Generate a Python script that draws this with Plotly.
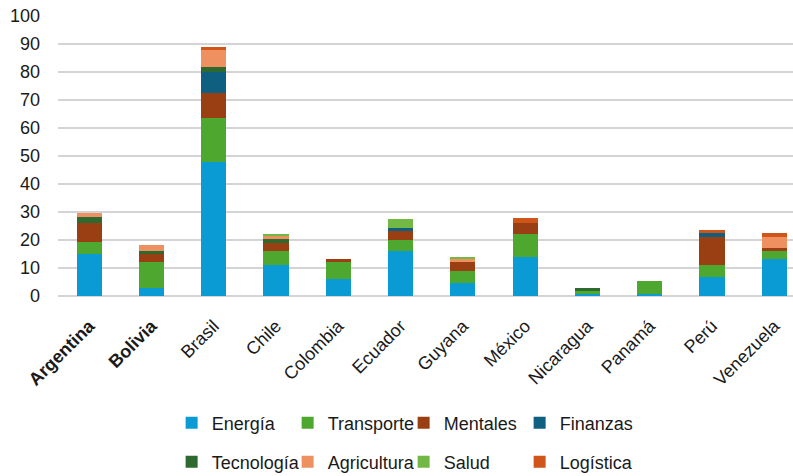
import plotly.graph_objects as go

paises = ["Argentina", "Bolivia", "Brasil", "Chile", "Colombia", "Ecuador",
          "Guyana", "México", "Nicaragua", "Panamá", "Perú", "Venezuela"]

energia     = [14.9, 3.0, 48.0, 11.0, 6.2, 16.1, 4.7, 14.1, 0.8, 0.8, 6.9, 13.2]
transporte  = [4.3, 9.0, 15.6, 5.1, 5.8, 3.9, 4.1, 8.1, 1.0, 4.4, 4.1, 2.9]
mentales    = [7.0, 2.9, 8.8, 2.9, 1.1, 3.3, 3.3, 4.0, 0.0, 0.0, 10.2, 1.1]
finanzas    = [0.0, 0.0, 7.6, 0.0, 0.0, 1.1, 0.0, 0.0, 0.0, 0.0, 1.4, 0.0]
tecnologia  = [2.1, 1.1, 1.7, 1.3, 0.0, 0.0, 0.0, 0.0, 1.1, 0.0, 0.0, 0.0]
agricultura = [1.4, 2.1, 6.0, 1.1, 0.0, 0.0, 1.1, 0.0, 0.0, 0.0, 0.0, 4.0]
salud       = [0.0, 0.0, 0.0, 0.8, 0.0, 3.2, 0.9, 0.0, 0.0, 0.0, 0.0, 0.0]
logistica   = [0.0, 0.0, 1.2, 0.0, 0.0, 0.0, 0.0, 1.5, 0.0, 0.0, 1.1, 1.4]

series = [
    ("Energía", energia, "#0A9BD5", "legend"),
    ("Transporte", transporte, "#4EA72E", "legend"),
    ("Mentales", mentales, "#9A3F14", "legend"),
    ("Finanzas", finanzas, "#0E5F80", "legend"),
    ("Tecnología", tecnologia, "#2E6A30", "legend2"),
    ("Agricultura", agricultura, "#EF9060", "legend2"),
    ("Salud", salud, "#72B844", "legend2"),
    ("Logística", logistica, "#CF5519", "legend2"),
]

y_ticks = list(range(0, 101, 10))
tick_text = []
for p in paises:
    if p in ("Argentina", "Bolivia"):
        tick_text.append("<b>" + p + "</b>")
    else:
        tick_text.append(p)

fig = go.Figure()
x_idx = list(range(len(paises)))
for name, vals, color, leg in series:
    fig.add_trace(go.Bar(
        x=x_idx, y=vals, name=name,
        marker=dict(color=color, line=dict(width=0)),
        legend=leg,
    ))

font_family = "Liberation Sans, Arial, sans-serif"
leg_common = dict(
    orientation="h", xanchor="left", yanchor="middle",
    traceorder="normal", entrywidth=71, entrywidthmode="pixels",
    font=dict(size=18, color="#1a1a1a"), bgcolor="rgba(0,0,0,0)",
    itemwidth=30,
)
fig.update_layout(
    barmode="stack",
    bargap=0.595,
    width=793, height=476,
    margin=dict(l=58, r=0, t=16, b=180, pad=0, autoexpand=False),
    plot_bgcolor="white",
    paper_bgcolor="white",
    font=dict(family=font_family, size=18, color="#1a1a1a"),
    xaxis=dict(
        tickmode="array", tickvals=x_idx, ticktext=tick_text,
        tickangle=-45, range=[-0.5, 11.3], automargin=False,
        showgrid=False, zeroline=False, showline=False,
        ticks="", ticklabelstandoff=15,
        tickfont=dict(size=18, color="#1a1a1a"),
    ),
    yaxis=dict(
        range=[0, 100], tickvals=y_ticks, automargin=False,
        showgrid=True, gridcolor="#D4D4D4", gridwidth=2,
        zeroline=True, zerolinecolor="#D4D4D4", zerolinewidth=2,
        showline=False, ticks="", ticklabelstandoff=17,
        tickfont=dict(size=18, color="#1a1a1a"),
    ),
    legend=dict(x=0.1546, y=-0.4536, **leg_common),
    legend2=dict(x=0.1546, y=-0.593, **leg_common),
)

fig.write_html("out.html")
